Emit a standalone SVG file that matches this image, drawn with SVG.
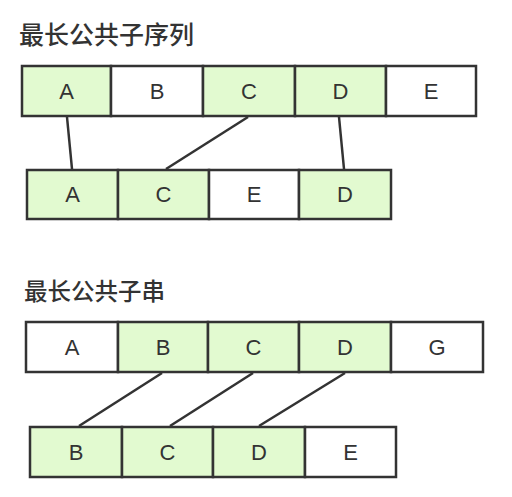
<svg xmlns="http://www.w3.org/2000/svg" width="512" height="497" viewBox="0 0 512 497">
<style>
.t{font-family:"Noto Sans CJK SC","Noto Sans",sans-serif;fill:#333;font-weight:500}
.c rect{stroke:#333;stroke-width:2.5}
.g{fill:#e2fad0}
.w{fill:#fff}
.c text{font-family:"Liberation Sans",Arial,sans-serif;font-size:22px;fill:#333;text-anchor:middle}
.lk line{stroke:#333;stroke-width:2.5}
</style>
<rect width="512" height="497" fill="#fff"/>
<text class="t" x="19" y="44" font-size="25">最长公共子序列</text>
<text class="t" x="24" y="300" font-size="23.5">最长公共子串</text>

<g id="seq1">
<g class="c" id="s1a"><rect class="g" x="22" y="66" width="89" height="50"/><text x="66.5" y="99">A</text></g>
<g class="c" id="s1b"><rect class="w" x="111" y="66" width="92" height="50"/><text x="157" y="99">B</text></g>
<g class="c" id="s1c"><rect class="g" x="203" y="66" width="92" height="50"/><text x="249" y="99">C</text></g>
<g class="c" id="s1d"><rect class="g" x="295" y="66" width="91" height="50"/><text x="340.5" y="99">D</text></g>
<g class="c" id="s1e"><rect class="w" x="386" y="66" width="90" height="50"/><text x="431" y="99">E</text></g>
</g>
<g id="seq2">
<g class="c" id="s2a"><rect class="g" x="27" y="170" width="91" height="49"/><text x="72.5" y="202">A</text></g>
<g class="c" id="s2c"><rect class="g" x="118" y="170" width="91" height="49"/><text x="163.5" y="202">C</text></g>
<g class="c" id="s2e"><rect class="w" x="209" y="170" width="90" height="49"/><text x="254" y="202">E</text></g>
<g class="c" id="s2d"><rect class="g" x="299" y="170" width="92" height="49"/><text x="345" y="202">D</text></g>
</g>
<g id="str1">
<g class="c" id="r1a"><rect class="w" x="26" y="322" width="92" height="50"/><text x="72" y="355">A</text></g>
<g class="c" id="r1b"><rect class="g" x="118" y="322" width="90" height="50"/><text x="163" y="355">B</text></g>
<g class="c" id="r1c"><rect class="g" x="208" y="322" width="91" height="50"/><text x="253.5" y="355">C</text></g>
<g class="c" id="r1d"><rect class="g" x="299" y="322" width="92" height="50"/><text x="345" y="355">D</text></g>
<g class="c" id="r1g"><rect class="w" x="391" y="322" width="92" height="50"/><text x="437" y="355">G</text></g>
</g>
<g id="str2">
<g class="c" id="r2b"><rect class="g" x="30" y="427" width="92" height="50"/><text x="76" y="460">B</text></g>
<g class="c" id="r2c"><rect class="g" x="122" y="427" width="91" height="50"/><text x="167.5" y="460">C</text></g>
<g class="c" id="r2d"><rect class="g" x="213" y="427" width="92" height="50"/><text x="259" y="460">D</text></g>
<g class="c" id="r2e"><rect class="w" x="305" y="427" width="91" height="50"/><text x="350.5" y="460">E</text></g>
</g>
<g id="links" class="lk">
<line x1="67" y1="117" x2="72" y2="169"/>
<line x1="248" y1="117" x2="166" y2="169"/>
<line x1="339" y1="117" x2="344" y2="169"/>
<line x1="162" y1="373" x2="79" y2="426"/>
<line x1="253" y1="373" x2="170" y2="426"/>
<line x1="345" y1="373" x2="259" y2="426"/>
</g>
</svg>
